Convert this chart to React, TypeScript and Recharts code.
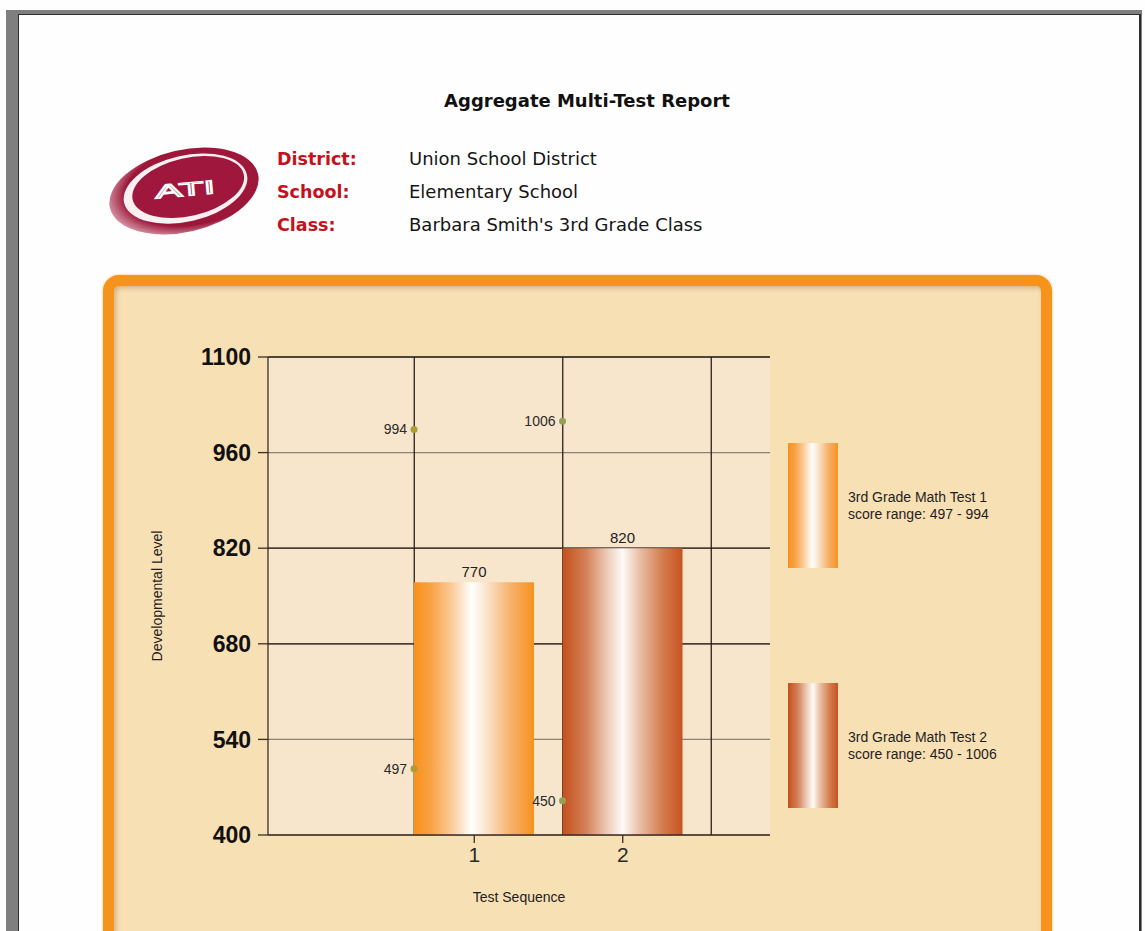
import {
  ComposedChart,
  Bar,
  XAxis,
  YAxis,
  CartesianGrid,
  Cell,
  LabelList,
  Legend,
} from "recharts";

// ---- data ----
const TESTS = ["1", "2"];
const SERIES_NAMES = ["3rd Grade Math Test 1", "3rd Grade Math Test 2"];
const SCORES = [770, 820];
const LOWS = [497, 450];
const HIGHS = [994, 1006];
const Y_TICKS = [400, 540, 680, 820, 960, 1100];
const DARK_LINES = [680, 820, 1100];

const HEADER_LABELS = ["District:", "School:", "Class:"];
const HEADER_VALUES = [
  "Union School District",
  "Elementary School",
  "Barbara Smith's 3rd Grade Class",
];

// ---- look ----
const GRADIENTS = [
  [
    [0, "#f7921c"],
    [0.14, "#f8a243"],
    [0.32, "#fbcd9c"],
    [0.48, "#ffffff"],
    [0.62, "#fae0c4"],
    [0.8, "#f6b26e"],
    [1, "#f7921c"],
  ],
  [
    [0, "#c4501c"],
    [0.2, "#d4825a"],
    [0.36, "#ecc6b2"],
    [0.5, "#fefaf6"],
    [0.64, "#e9c0a6"],
    [0.84, "#d47a4c"],
    [1, "#c65320"],
  ],
] as const;
const DOT_COLORS = ["#ad9c34", "#93a056"];

const NARROW = "'Liberation Sans Narrow', 'Liberation Sans', Arial, sans-serif";
const VERDANA = "'DejaVu Sans', Verdana, sans-serif";
const DARK = "#3a2d26";

const CHART_W = 920;
const CHART_H = 630;
const BAR = 120;
const PAD = { left: 132, right: 73 };

const rows = TESTS.map((t, i) => ({
  test: t,
  score: SCORES[i],
  low: LOWS[i],
  high: HIGHS[i],
}));

const cssGradient = (i: number) =>
  `linear-gradient(to right, ${GRADIENTS[i]
    .map(([o, c]) => `${c} ${o * 100}%`)
    .join(", ")})`;

// min / max dots sit on the left edge of each bar
const RangeDots = (props: any) => {
  const { x, y, height, payload } = props;
  const i = TESTS.indexOf(payload.test);
  const top = Math.min(y, y + height);
  const bottom = Math.max(y, y + height);
  const txt = { fontFamily: NARROW, fontSize: 14, fill: "#2a2a2a" };
  return (
    <g>
      <circle cx={x} cy={top} r={3.5} fill={DOT_COLORS[i]} />
      <text x={x - 7} y={top} dy="0.36em" textAnchor="end" {...txt}>
        {payload.high}
      </text>
      <circle cx={x} cy={bottom} r={3.5} fill={DOT_COLORS[i]} />
      <text x={x - 7} y={bottom} dy="0.36em" textAnchor="end" {...txt}>
        {payload.low}
      </text>
    </g>
  );
};

const LegendBox = () => (
  <div style={{ fontFamily: NARROW, fontSize: 14, color: "#1e1e1e" }}>
    {SERIES_NAMES.map((name, i) => (
      <div
        key={name}
        style={{
          display: "flex",
          alignItems: "center",
          marginTop: i ? 115 : 0,
        }}
      >
        <div
          style={{
            width: 50,
            height: 125,
            background: cssGradient(i),
            flexShrink: 0,
          }}
        />
        <div style={{ marginLeft: 10, lineHeight: "17px" }}>
          {name}
          <br />
          score range: {LOWS[i]} - {HIGHS[i]}
        </div>
      </div>
    ))}
  </div>
);

const Logo = () => (
  <svg width={160} height={100} style={{ position: "absolute", left: 104, top: 141 }}>
    <defs>
      <radialGradient id="logoOuter" cx="60%" cy="45%" r="65%">
        <stop offset="0%" stopColor="#a8163e" />
        <stop offset="75%" stopColor="#9b1739" />
        <stop offset="100%" stopColor="#e7b9c4" />
      </radialGradient>
    </defs>
    <g transform="rotate(-13 80 50)">
      <ellipse cx={80} cy={50} rx={76} ry={41} fill="url(#logoOuter)" />
      <ellipse cx={82} cy={48} rx={63} ry={33} fill="#fbeff2" />
      <ellipse cx={85} cy={47} rx={57} ry={29} fill="#a0173d" />
    </g>
    <text
      x={51}
      y={55}
      transform="rotate(-5 81 49)"
      textLength={60}
      lengthAdjust="spacingAndGlyphs"
      fontFamily="'Liberation Sans', Arial, sans-serif"
      fontSize={19}
      fill="none"
      stroke="#ffffff"
      strokeWidth={1.3}
    >
      ATI
    </text>
  </svg>
);

export default function App() {
  return (
    <div
      style={{
        position: "absolute",
        left: 0,
        top: 0,
        width: 1145,
        height: 931,
        overflow: "hidden",
        background: "#fefefe",
      }}
    >
      {/* page frame */}
      <div
        style={{
          position: "absolute",
          left: 6,
          top: 10,
          width: 1136,
          height: 930,
          background: "#7f7f7f",
        }}
      />
      <div
        style={{
          position: "absolute",
          left: 18,
          top: 14,
          width: 1120,
          height: 930,
          background: "#fefefe",
          borderLeft: "1px solid #2c2c2c",
          borderTop: "1px solid #2c2c2c",
          borderRight: "2px solid #2c2c2c",
        }}
      />

      {/* header */}
      <div
        style={{
          position: "absolute",
          left: 337,
          top: 90,
          width: 500,
          textAlign: "center",
          fontFamily: VERDANA,
          fontWeight: "bold",
          fontSize: 18,
          lineHeight: "22px",
          color: "#111",
        }}
      >
        Aggregate Multi-Test Report
      </div>
      <Logo />
      {HEADER_LABELS.map((lab, i) => (
        <div key={lab}>
          <div
            style={{
              position: "absolute",
              left: 277,
              top: 148 + i * 33,
              lineHeight: "22px",
              fontFamily: VERDANA,
              fontWeight: "bold",
              fontSize: 17.5,
              color: "#c4121c",
            }}
          >
            {lab}
          </div>
          <div
            style={{
              position: "absolute",
              left: 409,
              top: 148 + i * 33,
              lineHeight: "22px",
              fontFamily: VERDANA,
              fontSize: 18,
              color: "#151515",
              whiteSpace: "nowrap",
            }}
          >
            {HEADER_VALUES[i]}
          </div>
        </div>
      ))}

      {/* orange panel */}
      <div
        style={{
          position: "absolute",
          left: 103,
          top: 275,
          width: 949,
          height: 700,
          boxSizing: "border-box",
          border: "11px solid #f6931c",
          borderRadius: 16,
          background: "#f8e0b5",
          boxShadow:
            "inset 2px 2px 5px rgba(140,90,30,0.35), 0 0 3px rgba(247,148,29,0.6)",
        }}
      />

      <div style={{ position: "absolute", left: 117, top: 290 }}>
        <ComposedChart
          width={CHART_W}
          height={CHART_H}
          data={rows}
          margin={{ top: 67, right: 267, bottom: 15, left: 41 }}
        >
          <defs>
            {GRADIENTS.map((stops, i) => (
              <linearGradient key={i} id={`barGrad${i}`} x1="0" y1="0" x2="1" y2="0">
                {stops.map(([o, c]) => (
                  <stop key={o} offset={o} stopColor={c} />
                ))}
              </linearGradient>
            ))}
          </defs>
          <CartesianGrid
            fill="#f7e6cb"
            stroke="#8c8172"
            strokeWidth={1.2}
            vertical={false}
          />
          <CartesianGrid
            horizontalValues={DARK_LINES}
            stroke="#2a201b"
            strokeWidth={1.3}
            verticalCoordinatesGenerator={({ offset }: any) => {
              const band = (offset.width - PAD.left - PAD.right) / TESTS.length;
              return [...TESTS, ""].map(
                (_, i) => offset.left + PAD.left + (band - BAR) / 2 + i * band
              );
            }}
          />
          <XAxis
            xAxisId="main"
            dataKey="test"
            padding={PAD}
            height={70}
            tickSize={8}
            tickMargin={4}
            axisLine={{ stroke: DARK, strokeWidth: 1.3 }}
            tickLine={{ stroke: DARK, strokeWidth: 1.3 }}
            tick={{ fontFamily: NARROW, fontSize: 21, fill: "#2a2a2a" }}
            label={{
              value: "Test Sequence",
              position: "insideBottom",
              offset: 3,
              fontFamily: NARROW,
              fontSize: 14,
              fill: "#1e1e1e",
            }}
          />
          <XAxis xAxisId="range" dataKey="test" padding={PAD} hide />
          <YAxis
            type="number"
            domain={[400, 1100]}
            ticks={Y_TICKS}
            interval={0}
            width={110}
            tickSize={10}
            tickMargin={7}
            axisLine={{ stroke: DARK, strokeWidth: 1.3 }}
            tickLine={{ stroke: DARK, strokeWidth: 1.3 }}
            tick={{
              fontFamily: "'Liberation Sans', Arial, sans-serif",
              fontWeight: "bold",
              fontSize: 23,
              fill: "#111",
            }}
            label={{
              content: ({ viewBox }: any) => {
                const cx = viewBox.x - 1;
                const cy = viewBox.y + viewBox.height / 2;
                return (
                  <text
                    x={cx}
                    y={cy}
                    transform={`rotate(-90 ${cx} ${cy})`}
                    textAnchor="middle"
                    dominantBaseline="central"
                    fontFamily={NARROW}
                    fontSize={14}
                    fill="#1e1e1e"
                  >
                    Developmental Level
                  </text>
                );
              },
            }}
          />
          <Bar
            xAxisId="main"
            dataKey="score"
            barSize={BAR}
            isAnimationActive={false}
          >
            {rows.map((r, i) => (
              <Cell key={r.test} fill={`url(#barGrad${i})`} />
            ))}
            <LabelList
              dataKey="score"
              position="top"
              offset={5}
              fontFamily={NARROW}
              fontSize={15}
              fill="#222"
            />
          </Bar>
          <Bar
            xAxisId="range"
            dataKey={(d: any) => [d.low, d.high]}
            barSize={BAR}
            shape={RangeDots}
            isAnimationActive={false}
          />
          <Legend
            layout="horizontal"
            verticalAlign="middle"
            align="center"
            wrapperStyle={{ left: 671, top: 153, width: 240 }}
            content={() => <LegendBox />}
          />
        </ComposedChart>
      </div>
    </div>
  );
}
